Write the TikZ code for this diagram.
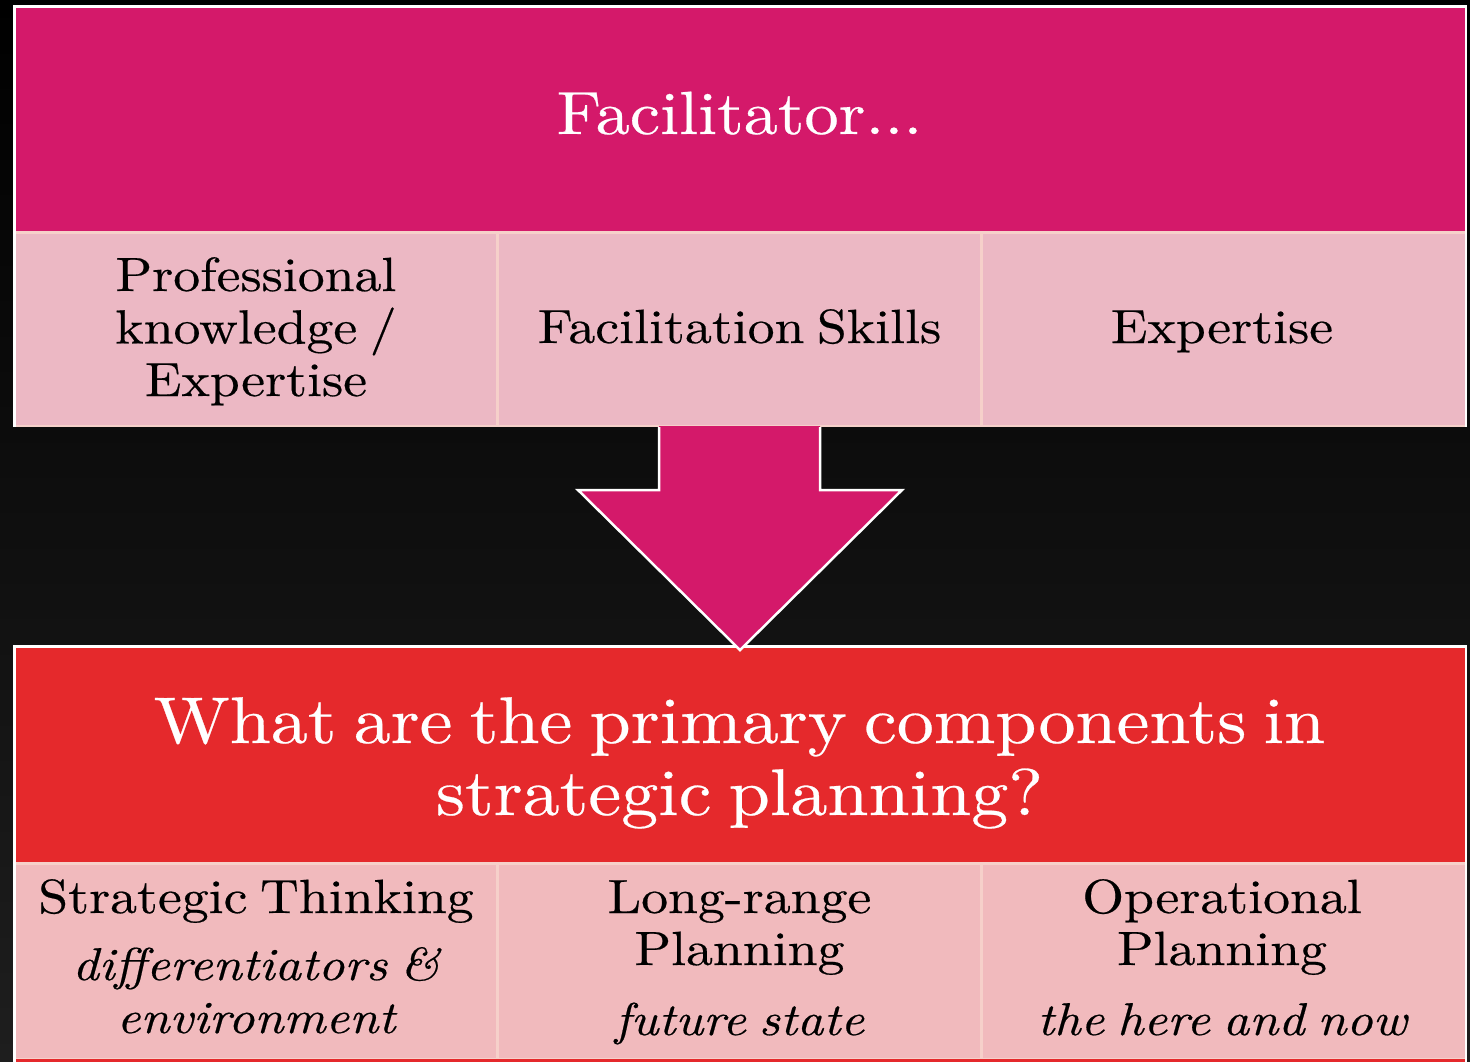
\documentclass[tikz,border=0pt]{standalone}
\usepackage{fontspec}
\setmainfont{lmroman10-regular.otf}[
  ItalicFont=lmroman10-italic.otf,
  FakeStretch=1.12,
  FakeBold=0.4,
  WordSpace=0.7]

\definecolor{bgbot}{RGB}{30,30,30}
\definecolor{magentaH}{RGB}{212,25,106}
\definecolor{redH}{RGB}{229,41,44}
\definecolor{cellTop}{RGB}{236,184,196}
\definecolor{cellBot}{RGB}{241,186,189}
\definecolor{sepPink}{RGB}{246,208,202}

\newcommand\fTitle{\fontsize{61}{64}\selectfont}
\newcommand\fQuest{\fontsize{66}{72}\selectfont}
\newcommand\fCell{\fontsize{48}{52}\selectfont}
\newcommand\fCellIt{\fontsize{46}{52}\selectfont\itshape}

\tikzset{
  box/.style={rectangle, inner sep=0pt, outer sep=0pt, anchor=north west},
  tline/.style={anchor=base, inner sep=0pt, outer sep=0pt},
  head/.style={tline, text=white},
  celltext/.style={tline, text=black, font=\fCell},
  celltextit/.style={tline, text=black, font=\fCellIt},
}

\begin{document}
\begin{tikzpicture}[x=1pt, y=-1pt]
  \useasboundingbox (0,0) rectangle (1470,1061);
  \clip (0,0) rectangle (1470,1061);

  % dark backdrop
  \shade[top color=black, bottom color=bgbot] (0,0) rectangle (1470,1061);

  % ---- upper table ----
  \node[box, fill=white, minimum width=1454pt, minimum height=422pt] (topframe) at (13,5) {};
  \node[box, fill=magentaH, minimum width=1449pt, minimum height=223.5pt] (tophead) at (15.5,7.5) {};
  \node[box, fill=sepPink, minimum width=1449pt, minimum height=196pt] (toprow) at (15.5,231) {};
  \node[box, fill=cellTop, minimum width=480pt, minimum height=191pt] (ta) at (15.5,233.5) {};
  \node[box, fill=cellTop, minimum width=481.5pt, minimum height=191pt] (tb) at (498.5,233.5) {};
  \node[box, fill=cellTop, minimum width=481.5pt, minimum height=191pt] (tc) at (983,233.5) {};

  \node[head, font=\fTitle] (title) at (739.5,134) {Facilitator...};

  \node[celltext] (ta1) at (256,291) {Professional};
  \node[celltext] (ta2) at (256,343.5) {knowledge /};
  \node[celltext] (ta3) at (256,396) {Expertise};
  \node[celltext] (tb1) at (739.5,343) {Facilitation Skills};
  \node[celltext] (tc1) at (1222,343) {Expertise};

  % ---- lower table ----
  \node[box, fill=white, minimum width=1454pt, minimum height=430pt] (botframe) at (13,645) {};
  \node[box, fill=redH, minimum width=1449pt, minimum height=214.5pt] (bothead) at (15.5,647.5) {};
  \node[box, fill=sepPink, minimum width=1449pt, minimum height=210pt] (botrow) at (15.5,862) {};
  \node[box, fill=cellBot, minimum width=480pt, minimum height=193pt] (ba) at (15.5,864.5) {};
  \node[box, fill=cellBot, minimum width=481.5pt, minimum height=193pt] (bb) at (498.5,864.5) {};
  \node[box, fill=cellBot, minimum width=481.5pt, minimum height=193pt] (bc) at (983,864.5) {};
  \node[box, fill=redH, minimum width=1449pt, minimum height=20pt] (botnext) at (15.5,1058.5) {};

  \node[head, font=\fQuest] (q1) at (739.5,743) {What are the primary components in};
  \node[head, font=\fQuest] (q2) at (739.5,815) {strategic planning?};

  \node[celltext] (ba1) at (256,913) {Strategic Thinking};
  \node[celltextit] (ba2) at (256,980) {differentiators \&};
  \node[celltextit] (ba3) at (256,1033) {environment};

  \node[celltext] (bb1) at (739.5,913) {Long-range};
  \node[celltext] (bb2) at (739.5,965) {Planning};
  \node[celltextit] (bb3) at (739.5,1035) {future state};

  \node[celltext] (bc1) at (1222,913) {Operational};
  \node[celltext] (bc2) at (1222,965) {Planning};
  \node[celltextit] (bc3) at (1222,1035) {the here and now};

  % ---- block arrow between the tables ----
  \fill[magentaH] (659,426) -- (659,490) -- (578,490) -- (740,650)
                  -- (902,490) -- (820,490) -- (820,426) -- cycle;
  \draw[white, line width=2.5pt, line join=miter]
        (659,427) -- (659,490) -- (578,490) -- (740,650)
        -- (902,490) -- (820,490) -- (820,427);
\end{tikzpicture}
\end{document}
